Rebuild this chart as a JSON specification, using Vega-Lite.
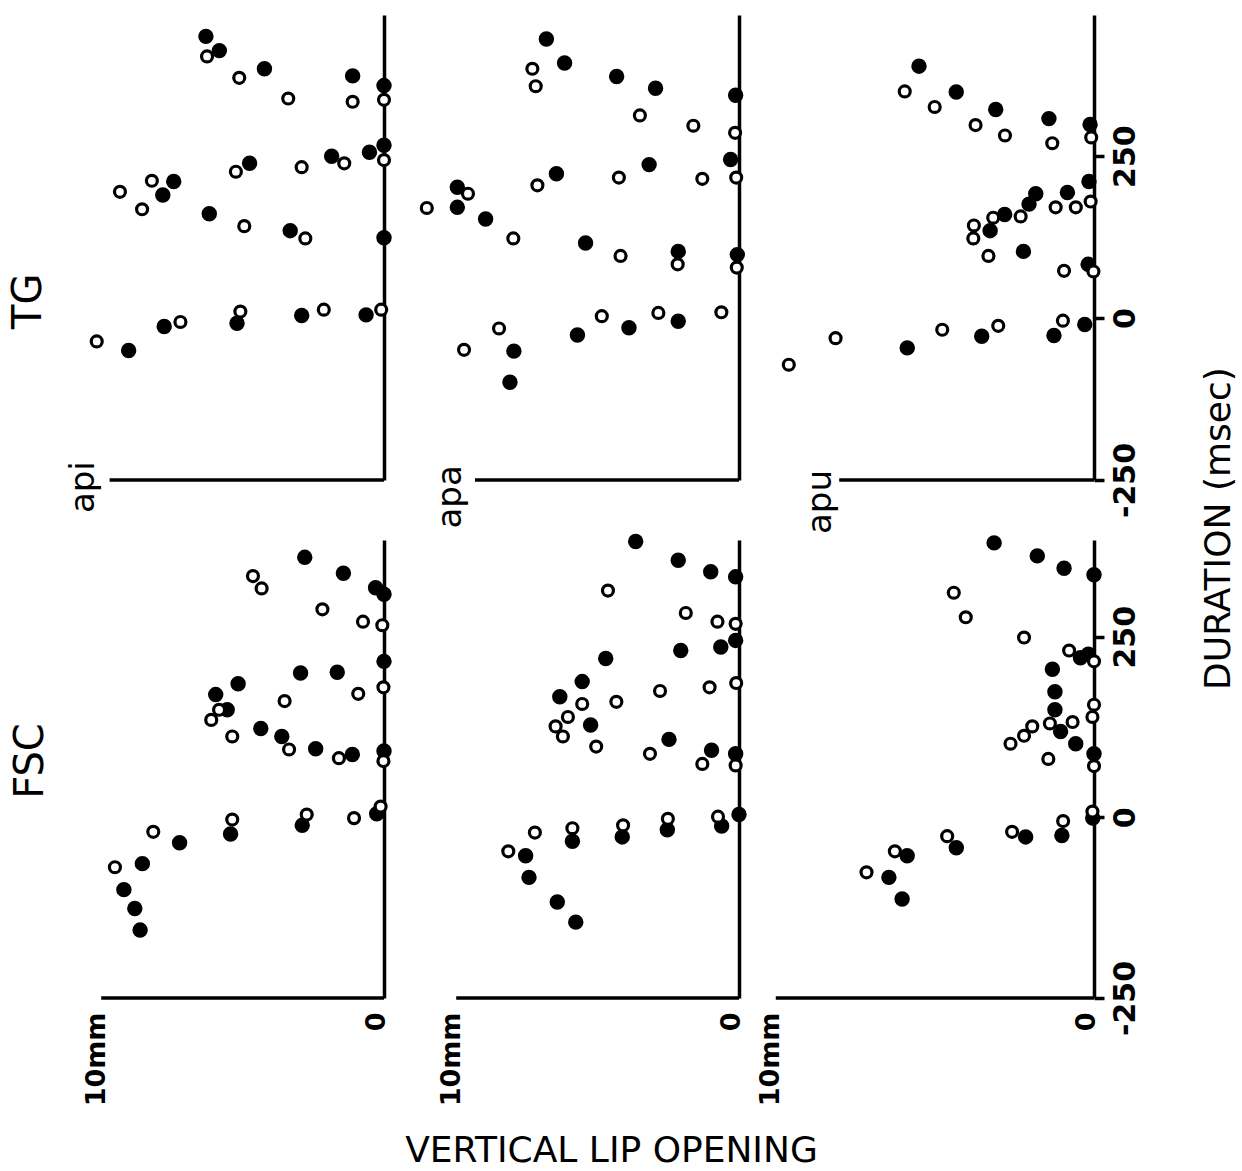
{
  "$schema": "https://vega.github.io/schema/vega-lite/v6.json",
  "background": "white",
  "padding": {"left": 8, "top": 15, "right": 0, "bottom": 0},
  "autosize": {"type": "pad"},
  "config": {
    "view": {"stroke": null},
    "axis": {"domainColor": "black", "domainWidth": 3.5, "tickColor": "black", "tickWidth": 3.5, "labelColor": "black", "labelFont": "DejaVu Sans", "labelFontWeight": "bold", "grid": false, "titleColor": "black", "titleFont": "DejaVu Sans"},
    "text": {"font": "DejaVu Sans", "color": "black"}
  },
  "datasets": {
    "pts": [
      {"s":"TG","w":"api","t":"f","lip":6.36,"dur":435},{"s":"TG","w":"api","t":"f","lip":5.88,"dur":413},{"s":"TG","w":"api","t":"f","lip":4.27,"dur":385},{"s":"TG","w":"api","t":"f","lip":1.12,"dur":374},{"s":"TG","w":"api","t":"f","lip":0,"dur":359},{"s":"TG","w":"api","t":"f","lip":0,"dur":267},{"s":"TG","w":"api","t":"f","lip":0.52,"dur":256},{"s":"TG","w":"api","t":"f","lip":1.87,"dur":250},{"s":"TG","w":"api","t":"f","lip":4.8,"dur":239},{"s":"TG","w":"api","t":"f","lip":7.51,"dur":211},{"s":"TG","w":"api","t":"f","lip":7.9,"dur":190},{"s":"TG","w":"api","t":"f","lip":6.24,"dur":161},{"s":"TG","w":"api","t":"f","lip":3.35,"dur":135},{"s":"TG","w":"api","t":"f","lip":0,"dur":124},{"s":"TG","w":"api","t":"f","lip":7.85,"dur":-13},{"s":"TG","w":"api","t":"f","lip":5.25,"dur":-8},{"s":"TG","w":"api","t":"f","lip":2.94,"dur":4},{"s":"TG","w":"api","t":"f","lip":0.64,"dur":5},{"s":"TG","w":"api","t":"f","lip":9.12,"dur":-50},
      {"s":"TG","w":"api","t":"o","lip":6.32,"dur":404},{"s":"TG","w":"api","t":"o","lip":5.17,"dur":371},{"s":"TG","w":"api","t":"o","lip":3.42,"dur":339},{"s":"TG","w":"api","t":"o","lip":1.12,"dur":334},{"s":"TG","w":"api","t":"o","lip":0,"dur":337},{"s":"TG","w":"api","t":"o","lip":0,"dur":244},{"s":"TG","w":"api","t":"o","lip":1.42,"dur":239},{"s":"TG","w":"api","t":"o","lip":2.94,"dur":233},{"s":"TG","w":"api","t":"o","lip":5.29,"dur":226},{"s":"TG","w":"api","t":"o","lip":8.29,"dur":212},{"s":"TG","w":"api","t":"o","lip":9.43,"dur":195},{"s":"TG","w":"api","t":"o","lip":8.64,"dur":168},{"s":"TG","w":"api","t":"o","lip":4.99,"dur":142},{"s":"TG","w":"api","t":"o","lip":2.81,"dur":123},{"s":"TG","w":"api","t":"o","lip":7.27,"dur":-6},{"s":"TG","w":"api","t":"o","lip":5.13,"dur":10},{"s":"TG","w":"api","t":"o","lip":2.15,"dur":13},{"s":"TG","w":"api","t":"o","lip":0.1,"dur":13},{"s":"TG","w":"api","t":"o","lip":10.26,"dur":-36},
      {"s":"TG","w":"apa","t":"f","lip":6.88,"dur":431},{"s":"TG","w":"apa","t":"f","lip":6.23,"dur":394},{"s":"TG","w":"apa","t":"f","lip":4.37,"dur":373},{"s":"TG","w":"apa","t":"f","lip":2.98,"dur":355},{"s":"TG","w":"apa","t":"f","lip":0.12,"dur":344},{"s":"TG","w":"apa","t":"f","lip":0.3,"dur":245},{"s":"TG","w":"apa","t":"f","lip":3.21,"dur":237},{"s":"TG","w":"apa","t":"f","lip":6.52,"dur":223},{"s":"TG","w":"apa","t":"f","lip":10.06,"dur":202},{"s":"TG","w":"apa","t":"f","lip":10.06,"dur":171},{"s":"TG","w":"apa","t":"f","lip":9.05,"dur":153},{"s":"TG","w":"apa","t":"f","lip":5.48,"dur":116},{"s":"TG","w":"apa","t":"f","lip":2.17,"dur":103},{"s":"TG","w":"apa","t":"f","lip":0.06,"dur":98},{"s":"TG","w":"apa","t":"f","lip":2.17,"dur":-5},{"s":"TG","w":"apa","t":"f","lip":3.93,"dur":-15},{"s":"TG","w":"apa","t":"f","lip":5.77,"dur":-26},{"s":"TG","w":"apa","t":"f","lip":8.04,"dur":-51},{"s":"TG","w":"apa","t":"f","lip":8.18,"dur":-99},
      {"s":"TG","w":"apa","t":"o","lip":7.38,"dur":385},{"s":"TG","w":"apa","t":"o","lip":7.26,"dur":358},{"s":"TG","w":"apa","t":"o","lip":3.54,"dur":313},{"s":"TG","w":"apa","t":"o","lip":1.63,"dur":297},{"s":"TG","w":"apa","t":"o","lip":0.14,"dur":286},{"s":"TG","w":"apa","t":"o","lip":0.1,"dur":217},{"s":"TG","w":"apa","t":"o","lip":1.31,"dur":215},{"s":"TG","w":"apa","t":"o","lip":4.29,"dur":217},{"s":"TG","w":"apa","t":"o","lip":7.2,"dur":205},{"s":"TG","w":"apa","t":"o","lip":9.68,"dur":192},{"s":"TG","w":"apa","t":"o","lip":11.15,"dur":170},{"s":"TG","w":"apa","t":"o","lip":8.06,"dur":123},{"s":"TG","w":"apa","t":"o","lip":4.23,"dur":96},{"s":"TG","w":"apa","t":"o","lip":2.19,"dur":83},{"s":"TG","w":"apa","t":"o","lip":0.08,"dur":78},{"s":"TG","w":"apa","t":"o","lip":4.9,"dur":3},{"s":"TG","w":"apa","t":"o","lip":2.88,"dur":8},{"s":"TG","w":"apa","t":"o","lip":0.63,"dur":9},{"s":"TG","w":"apa","t":"o","lip":8.57,"dur":-16},{"s":"TG","w":"apa","t":"o","lip":9.82,"dur":-49},
      {"s":"TG","w":"apu","t":"f","lip":6.25,"dur":389},{"s":"TG","w":"apu","t":"f","lip":4.92,"dur":349},{"s":"TG","w":"apu","t":"f","lip":3.51,"dur":322},{"s":"TG","w":"apu","t":"f","lip":1.61,"dur":308},{"s":"TG","w":"apu","t":"f","lip":0.14,"dur":299},{"s":"TG","w":"apu","t":"f","lip":0.18,"dur":211},{"s":"TG","w":"apu","t":"f","lip":0.95,"dur":194},{"s":"TG","w":"apu","t":"f","lip":2.08,"dur":192},{"s":"TG","w":"apu","t":"f","lip":2.32,"dur":176},{"s":"TG","w":"apu","t":"f","lip":3.19,"dur":160},{"s":"TG","w":"apu","t":"f","lip":3.71,"dur":135},{"s":"TG","w":"apu","t":"f","lip":2.52,"dur":103},{"s":"TG","w":"apu","t":"f","lip":0.21,"dur":83},{"s":"TG","w":"apu","t":"f","lip":0.33,"dur":-10},{"s":"TG","w":"apu","t":"f","lip":1.43,"dur":-27},{"s":"TG","w":"apu","t":"f","lip":4.01,"dur":-28},{"s":"TG","w":"apu","t":"f","lip":6.67,"dur":-46},
      {"s":"TG","w":"apu","t":"o","lip":6.76,"dur":350},{"s":"TG","w":"apu","t":"o","lip":5.69,"dur":326},{"s":"TG","w":"apu","t":"o","lip":4.23,"dur":298},{"s":"TG","w":"apu","t":"o","lip":3.18,"dur":282},{"s":"TG","w":"apu","t":"o","lip":1.49,"dur":270},{"s":"TG","w":"apu","t":"o","lip":0.1,"dur":279},{"s":"TG","w":"apu","t":"o","lip":0.12,"dur":180},{"s":"TG","w":"apu","t":"o","lip":0.65,"dur":171},{"s":"TG","w":"apu","t":"o","lip":1.37,"dur":171},{"s":"TG","w":"apu","t":"o","lip":2.62,"dur":157},{"s":"TG","w":"apu","t":"o","lip":3.6,"dur":155},{"s":"TG","w":"apu","t":"o","lip":4.29,"dur":143},{"s":"TG","w":"apu","t":"o","lip":4.31,"dur":123},{"s":"TG","w":"apu","t":"o","lip":3.77,"dur":96},{"s":"TG","w":"apu","t":"o","lip":1.07,"dur":73},{"s":"TG","w":"apu","t":"o","lip":0.02,"dur":72},{"s":"TG","w":"apu","t":"o","lip":1.11,"dur":-4},{"s":"TG","w":"apu","t":"o","lip":3.42,"dur":-12},{"s":"TG","w":"apu","t":"o","lip":5.42,"dur":-18},{"s":"TG","w":"apu","t":"o","lip":9.23,"dur":-31},{"s":"TG","w":"apu","t":"o","lip":10.9,"dur":-72},
      {"s":"FSC","w":"api","t":"f","lip":2.83,"dur":360},{"s":"FSC","w":"api","t":"f","lip":1.45,"dur":338},{"s":"FSC","w":"api","t":"f","lip":0.3,"dur":318},{"s":"FSC","w":"api","t":"f","lip":0,"dur":309},{"s":"FSC","w":"api","t":"f","lip":0,"dur":216},{"s":"FSC","w":"api","t":"f","lip":1.67,"dur":201},{"s":"FSC","w":"api","t":"f","lip":2.98,"dur":200},{"s":"FSC","w":"api","t":"f","lip":5.21,"dur":185},{"s":"FSC","w":"api","t":"f","lip":6.01,"dur":170},{"s":"FSC","w":"api","t":"f","lip":5.6,"dur":149},{"s":"FSC","w":"api","t":"f","lip":4.4,"dur":123},{"s":"FSC","w":"api","t":"f","lip":3.65,"dur":112},{"s":"FSC","w":"api","t":"f","lip":2.44,"dur":95},{"s":"FSC","w":"api","t":"f","lip":1.13,"dur":87},{"s":"FSC","w":"api","t":"f","lip":0,"dur":92},{"s":"FSC","w":"api","t":"f","lip":0.26,"dur":5},{"s":"FSC","w":"api","t":"f","lip":2.92,"dur":-11},{"s":"FSC","w":"api","t":"f","lip":5.48,"dur":-23},{"s":"FSC","w":"api","t":"f","lip":7.3,"dur":-35},{"s":"FSC","w":"api","t":"f","lip":8.63,"dur":-64},{"s":"FSC","w":"api","t":"f","lip":9.29,"dur":-100},{"s":"FSC","w":"api","t":"f","lip":8.9,"dur":-126},{"s":"FSC","w":"api","t":"f","lip":8.71,"dur":-156},
      {"s":"FSC","w":"api","t":"o","lip":4.68,"dur":334},{"s":"FSC","w":"api","t":"o","lip":4.37,"dur":317},{"s":"FSC","w":"api","t":"o","lip":2.2,"dur":288},{"s":"FSC","w":"api","t":"o","lip":0.75,"dur":271},{"s":"FSC","w":"api","t":"o","lip":0.06,"dur":266},{"s":"FSC","w":"api","t":"o","lip":0.02,"dur":180},{"s":"FSC","w":"api","t":"o","lip":0.92,"dur":171},{"s":"FSC","w":"api","t":"o","lip":3.55,"dur":161},{"s":"FSC","w":"api","t":"o","lip":5.89,"dur":149},{"s":"FSC","w":"api","t":"o","lip":6.17,"dur":135},{"s":"FSC","w":"api","t":"o","lip":5.42,"dur":112},{"s":"FSC","w":"api","t":"o","lip":3.39,"dur":94},{"s":"FSC","w":"api","t":"o","lip":1.61,"dur":82},{"s":"FSC","w":"api","t":"o","lip":0.02,"dur":78},{"s":"FSC","w":"api","t":"o","lip":0.12,"dur":15},{"s":"FSC","w":"api","t":"o","lip":1.07,"dur":-1},{"s":"FSC","w":"api","t":"o","lip":2.76,"dur":4},{"s":"FSC","w":"api","t":"o","lip":5.42,"dur":-3},{"s":"FSC","w":"api","t":"o","lip":8.24,"dur":-20},{"s":"FSC","w":"api","t":"o","lip":9.61,"dur":-69},
      {"s":"FSC","w":"apa","t":"f","lip":3.69,"dur":382},{"s":"FSC","w":"apa","t":"f","lip":2.17,"dur":356},{"s":"FSC","w":"apa","t":"f","lip":1.01,"dur":340},{"s":"FSC","w":"apa","t":"f","lip":0.12,"dur":333},{"s":"FSC","w":"apa","t":"f","lip":0.12,"dur":245},{"s":"FSC","w":"apa","t":"f","lip":0.65,"dur":236},{"s":"FSC","w":"apa","t":"f","lip":2.08,"dur":231},{"s":"FSC","w":"apa","t":"f","lip":4.76,"dur":220},{"s":"FSC","w":"apa","t":"f","lip":5.6,"dur":188},{"s":"FSC","w":"apa","t":"f","lip":6.4,"dur":167},{"s":"FSC","w":"apa","t":"f","lip":5.3,"dur":128},{"s":"FSC","w":"apa","t":"f","lip":2.5,"dur":108},{"s":"FSC","w":"apa","t":"f","lip":0.98,"dur":93},{"s":"FSC","w":"apa","t":"f","lip":0.12,"dur":88},{"s":"FSC","w":"apa","t":"f","lip":0,"dur":4},{"s":"FSC","w":"apa","t":"f","lip":0.62,"dur":-12},{"s":"FSC","w":"apa","t":"f","lip":2.56,"dur":-17},{"s":"FSC","w":"apa","t":"f","lip":4.17,"dur":-27},{"s":"FSC","w":"apa","t":"f","lip":5.95,"dur":-33},{"s":"FSC","w":"apa","t":"f","lip":7.62,"dur":-53},{"s":"FSC","w":"apa","t":"f","lip":7.5,"dur":-83},{"s":"FSC","w":"apa","t":"f","lip":6.49,"dur":-117},{"s":"FSC","w":"apa","t":"f","lip":5.83,"dur":-145},
      {"s":"FSC","w":"apa","t":"o","lip":4.68,"dur":314},{"s":"FSC","w":"apa","t":"o","lip":1.9,"dur":283},{"s":"FSC","w":"apa","t":"o","lip":0.77,"dur":271},{"s":"FSC","w":"apa","t":"o","lip":0.12,"dur":268},{"s":"FSC","w":"apa","t":"o","lip":0.1,"dur":186},{"s":"FSC","w":"apa","t":"o","lip":1.05,"dur":180},{"s":"FSC","w":"apa","t":"o","lip":2.82,"dur":175},{"s":"FSC","w":"apa","t":"o","lip":4.38,"dur":160},{"s":"FSC","w":"apa","t":"o","lip":5.6,"dur":157},{"s":"FSC","w":"apa","t":"o","lip":6.11,"dur":139},{"s":"FSC","w":"apa","t":"o","lip":6.55,"dur":126},{"s":"FSC","w":"apa","t":"o","lip":6.29,"dur":112},{"s":"FSC","w":"apa","t":"o","lip":5.1,"dur":98},{"s":"FSC","w":"apa","t":"o","lip":3.18,"dur":88},{"s":"FSC","w":"apa","t":"o","lip":1.31,"dur":74},{"s":"FSC","w":"apa","t":"o","lip":0.12,"dur":72},{"s":"FSC","w":"apa","t":"o","lip":0.75,"dur":1},{"s":"FSC","w":"apa","t":"o","lip":2.54,"dur":-2},{"s":"FSC","w":"apa","t":"o","lip":4.14,"dur":-11},{"s":"FSC","w":"apa","t":"o","lip":5.95,"dur":-15},{"s":"FSC","w":"apa","t":"o","lip":7.29,"dur":-21},{"s":"FSC","w":"apa","t":"o","lip":8.24,"dur":-47},
      {"s":"FSC","w":"apu","t":"f","lip":3.17,"dur":380},{"s":"FSC","w":"apu","t":"f","lip":1.8,"dur":362},{"s":"FSC","w":"apu","t":"f","lip":0.95,"dur":345},{"s":"FSC","w":"apu","t":"f","lip":0,"dur":336},{"s":"FSC","w":"apu","t":"f","lip":0.18,"dur":226},{"s":"FSC","w":"apu","t":"f","lip":0.43,"dur":221},{"s":"FSC","w":"apu","t":"f","lip":1.32,"dur":205},{"s":"FSC","w":"apu","t":"f","lip":1.24,"dur":174},{"s":"FSC","w":"apu","t":"f","lip":1.24,"dur":149},{"s":"FSC","w":"apu","t":"f","lip":1.06,"dur":119},{"s":"FSC","w":"apu","t":"f","lip":0.58,"dur":102},{"s":"FSC","w":"apu","t":"f","lip":0,"dur":88},{"s":"FSC","w":"apu","t":"f","lip":0.04,"dur":-1},{"s":"FSC","w":"apu","t":"f","lip":2.17,"dur":-27},{"s":"FSC","w":"apu","t":"f","lip":1.02,"dur":-25},{"s":"FSC","w":"apu","t":"f","lip":4.37,"dur":-42},{"s":"FSC","w":"apu","t":"f","lip":5.93,"dur":-53},{"s":"FSC","w":"apu","t":"f","lip":6.51,"dur":-83},{"s":"FSC","w":"apu","t":"f","lip":6.09,"dur":-113},
      {"s":"FSC","w":"apu","t":"o","lip":4.45,"dur":311},{"s":"FSC","w":"apu","t":"o","lip":4.07,"dur":277},{"s":"FSC","w":"apu","t":"o","lip":2.22,"dur":249},{"s":"FSC","w":"apu","t":"o","lip":0.79,"dur":231},{"s":"FSC","w":"apu","t":"o","lip":0,"dur":216},{"s":"FSC","w":"apu","t":"o","lip":0,"dur":156},{"s":"FSC","w":"apu","t":"o","lip":0.05,"dur":139},{"s":"FSC","w":"apu","t":"o","lip":0.68,"dur":132},{"s":"FSC","w":"apu","t":"o","lip":1.4,"dur":130},{"s":"FSC","w":"apu","t":"o","lip":1.96,"dur":126},{"s":"FSC","w":"apu","t":"o","lip":2.22,"dur":113},{"s":"FSC","w":"apu","t":"o","lip":2.65,"dur":102},{"s":"FSC","w":"apu","t":"o","lip":1.45,"dur":81},{"s":"FSC","w":"apu","t":"o","lip":0,"dur":71},{"s":"FSC","w":"apu","t":"o","lip":0.05,"dur":8},{"s":"FSC","w":"apu","t":"o","lip":0.98,"dur":-5},{"s":"FSC","w":"apu","t":"o","lip":2.6,"dur":-20},{"s":"FSC","w":"apu","t":"o","lip":4.66,"dur":-26},{"s":"FSC","w":"apu","t":"o","lip":6.32,"dur":-47},{"s":"FSC","w":"apu","t":"o","lip":7.22,"dur":-76}
    ]
  },
  "bounds": "flush",
  "columns": 3,
  "spacing": {"row": 60, "column": 33},
  "concat": [
    {
      "width": 322, "height": 465,
      "layer": [
        {"data": {"values": [{}]}, "mark": {"type": "rule", "color": "black", "strokeWidth": 3.5},
         "encoding": {"x": {"datum": 9.8, "type": "quantitative", "axis": null}, "x2": {"datum": 0}, "y": {"datum": -250, "type": "quantitative"}}},
        {"data": {"name": "pts"}, "transform": [{"filter": "datum.s == 'TG' && datum.w == 'api'"}],
         "mark": {"type": "point", "shape": "circle", "filled": true, "stroke": "black", "strokeWidth": 3.2, "opacity": 1},
         "encoding": {
           "x": {"field": "lip", "type": "quantitative", "scale": {"domain": [0, 11.5], "reverse": true, "nice": false, "zero": false}, "axis": null},
           "y": {"field": "dur", "type": "quantitative", "scale": {"domain": [-250, 468], "nice": false, "zero": false}, "axis": {"orient": "right", "ticks": false, "labels": false, "title": null}},
           "fill": {"field": "t", "type": "nominal", "scale": {"domain": ["f", "o"], "range": ["black", "white"]}, "legend": null},
           "size": {"field": "t", "type": "nominal", "scale": {"domain": ["f", "o"], "range": [150, 120]}, "legend": null}
         }},
        {"data": {"values": [{}]}, "mark": {"type": "text", "text": "api", "angle": 270, "fontSize": 34, "align": "center", "baseline": "middle"},
         "encoding": {"x": {"datum": 10.7, "type": "quantitative", "axis": null}, "y": {"datum": -261, "type": "quantitative"}}},
        {"data": {"values": [{}]}, "mark": {"type": "text", "text": "TG", "angle": 270, "fontSize": 40, "align": "center", "baseline": "middle"},
         "encoding": {"x": {"datum": 12.68, "type": "quantitative", "axis": null}, "y": {"datum": 26, "type": "quantitative"}}}
      ]
    },
    {
      "width": 322, "height": 465,
      "layer": [
        {"data": {"values": [{}]}, "mark": {"type": "rule", "color": "black", "strokeWidth": 3.5},
         "encoding": {"x": {"datum": 9.43, "type": "quantitative", "axis": null}, "x2": {"datum": 0}, "y": {"datum": -250, "type": "quantitative"}}},
        {"data": {"name": "pts"}, "transform": [{"filter": "datum.s == 'TG' && datum.w == 'apa'"}],
         "mark": {"type": "point", "shape": "circle", "filled": true, "stroke": "black", "strokeWidth": 3.2, "opacity": 1},
         "encoding": {
           "x": {"field": "lip", "type": "quantitative", "scale": {"domain": [0, 11.5], "reverse": true, "nice": false, "zero": false}, "axis": null},
           "y": {"field": "dur", "type": "quantitative", "scale": {"domain": [-250, 468], "nice": false, "zero": false}, "axis": {"orient": "right", "ticks": false, "labels": false, "title": null}},
           "fill": {"field": "t", "type": "nominal", "scale": {"domain": ["f", "o"], "range": ["black", "white"]}, "legend": null},
           "size": {"field": "t", "type": "nominal", "scale": {"domain": ["f", "o"], "range": [150, 120]}, "legend": null}
         }},
        {"data": {"values": [{}]}, "mark": {"type": "text", "text": "apa", "angle": 270, "fontSize": 34, "align": "center", "baseline": "middle"},
         "encoding": {"x": {"datum": 10.3, "type": "quantitative", "axis": null}, "y": {"datum": -276, "type": "quantitative"}}}
      ]
    },
    {
      "width": 322, "height": 465,
      "layer": [
        {"data": {"values": [{}]}, "mark": {"type": "rule", "color": "black", "strokeWidth": 3.5},
         "encoding": {"x": {"datum": 9.1, "type": "quantitative", "axis": null}, "x2": {"datum": 0}, "y": {"datum": -250, "type": "quantitative"}}},
        {"data": {"name": "pts"}, "transform": [{"filter": "datum.s == 'TG' && datum.w == 'apu'"}],
         "mark": {"type": "point", "shape": "circle", "filled": true, "stroke": "black", "strokeWidth": 3.2, "opacity": 1},
         "encoding": {
           "x": {"field": "lip", "type": "quantitative", "scale": {"domain": [0, 11.5], "reverse": true, "nice": false, "zero": false}, "axis": null},
           "y": {"field": "dur", "type": "quantitative", "scale": {"domain": [-250, 468], "nice": false, "zero": false}, "axis": {"orient": "right", "values": [-250, 0, 250], "labelExpr": "datum.value == -250 ? '-250' : datum.label", "ticks": true, "tickSize": 10, "labels": true, "labelAngle": 270, "labelAlign": "center", "labelBaseline": "top", "labelFontSize": 30, "labelPadding": 6, "title": null}},
           "fill": {"field": "t", "type": "nominal", "scale": {"domain": ["f", "o"], "range": ["black", "white"]}, "legend": null},
           "size": {"field": "t", "type": "nominal", "scale": {"domain": ["f", "o"], "range": [150, 120]}, "legend": null}
         }},
        {"data": {"values": [{}]}, "mark": {"type": "text", "text": "apu", "angle": 270, "fontSize": 34, "align": "center", "baseline": "middle"},
         "encoding": {"x": {"datum": 9.75, "type": "quantitative", "axis": null}, "y": {"datum": -284, "type": "quantitative"}}},
        {"data": {"values": [{}]}, "mark": {"type": "text", "text": "DURATION  (msec)", "angle": 270, "fontSize": 36, "align": "center", "baseline": "middle"},
         "encoding": {"x": {"datum": -4.45, "type": "quantitative", "axis": null}, "y": {"datum": -325, "type": "quantitative"}}}
      ]
    },
    {
      "width": 322, "height": 458,
      "layer": [
        {"data": {"values": [{}]}, "mark": {"type": "rule", "color": "black", "strokeWidth": 3.5},
         "encoding": {"x": {"datum": 10.1, "type": "quantitative"}, "x2": {"datum": 0}, "y": {"datum": -250, "type": "quantitative"}}},
        {"data": {"name": "pts"}, "transform": [{"filter": "datum.s == 'FSC' && datum.w == 'api'"}],
         "mark": {"type": "point", "shape": "circle", "filled": true, "stroke": "black", "strokeWidth": 3.2, "opacity": 1},
         "encoding": {
           "x": {"field": "lip", "type": "quantitative", "scale": {"domain": [0, 11.5], "reverse": true, "nice": false, "zero": false}, "axis": {"orient": "bottom", "domain": false, "ticks": false, "values": [0, 10], "labelExpr": "datum.value == 0 ? '0' : '10mm'", "labelAngle": 270, "labelFontSize": 27, "labelPadding": 14, "labelOffset": -8, "title": null}},
           "y": {"field": "dur", "type": "quantitative", "scale": {"domain": [-250, 384], "nice": false, "zero": false}, "axis": {"orient": "right", "ticks": false, "labels": false, "title": null}},
           "fill": {"field": "t", "type": "nominal", "scale": {"domain": ["f", "o"], "range": ["black", "white"]}, "legend": null},
           "size": {"field": "t", "type": "nominal", "scale": {"domain": ["f", "o"], "range": [150, 120]}, "legend": null}
         }},
        {"data": {"values": [{}]}, "mark": {"type": "text", "text": "FSC", "angle": 270, "fontSize": 40, "align": "center", "baseline": "middle"},
         "encoding": {"x": {"datum": 12.6, "type": "quantitative"}, "y": {"datum": 78, "type": "quantitative"}}}
      ]
    },
    {
      "width": 322, "height": 458,
      "layer": [
        {"data": {"values": [{}]}, "mark": {"type": "rule", "color": "black", "strokeWidth": 3.5},
         "encoding": {"x": {"datum": 10.1, "type": "quantitative"}, "x2": {"datum": 0}, "y": {"datum": -250, "type": "quantitative"}}},
        {"data": {"name": "pts"}, "transform": [{"filter": "datum.s == 'FSC' && datum.w == 'apa'"}],
         "mark": {"type": "point", "shape": "circle", "filled": true, "stroke": "black", "strokeWidth": 3.2, "opacity": 1},
         "encoding": {
           "x": {"field": "lip", "type": "quantitative", "scale": {"domain": [0, 11.5], "reverse": true, "nice": false, "zero": false}, "axis": {"orient": "bottom", "domain": false, "ticks": false, "values": [0, 10], "labelExpr": "datum.value == 0 ? '0' : '10mm'", "labelAngle": 270, "labelFontSize": 27, "labelPadding": 14, "labelOffset": -8, "title": "VERTICAL LIP OPENING", "titleFontSize": 36, "titleFontWeight": "normal", "titleX": 194, "titleY": 152, "titleAlign": "center", "titleBaseline": "middle"}},
           "y": {"field": "dur", "type": "quantitative", "scale": {"domain": [-250, 384], "nice": false, "zero": false}, "axis": {"orient": "right", "ticks": false, "labels": false, "title": null}},
           "fill": {"field": "t", "type": "nominal", "scale": {"domain": ["f", "o"], "range": ["black", "white"]}, "legend": null},
           "size": {"field": "t", "type": "nominal", "scale": {"domain": ["f", "o"], "range": [150, 120]}, "legend": null}
         }}
      ]
    },
    {
      "width": 322, "height": 458,
      "layer": [
        {"data": {"values": [{}]}, "mark": {"type": "rule", "color": "black", "strokeWidth": 3.5},
         "encoding": {"x": {"datum": 10.1, "type": "quantitative"}, "x2": {"datum": 0}, "y": {"datum": -250, "type": "quantitative"}}},
        {"data": {"name": "pts"}, "transform": [{"filter": "datum.s == 'FSC' && datum.w == 'apu'"}],
         "mark": {"type": "point", "shape": "circle", "filled": true, "stroke": "black", "strokeWidth": 3.2, "opacity": 1},
         "encoding": {
           "x": {"field": "lip", "type": "quantitative", "scale": {"domain": [0, 10.22], "reverse": true, "nice": false, "zero": false}, "axis": {"orient": "bottom", "domain": false, "ticks": false, "values": [0, 10], "labelExpr": "datum.value == 0 ? '0' : '10mm'", "labelAngle": 270, "labelFontSize": 27, "labelPadding": 14, "labelOffset": -8, "title": null}},
           "y": {"field": "dur", "type": "quantitative", "scale": {"domain": [-250, 384], "nice": false, "zero": false}, "axis": {"orient": "right", "values": [-250, 0, 250], "labelExpr": "datum.value == -250 ? '-250' : datum.label", "ticks": true, "tickSize": 10, "labels": true, "labelAngle": 270, "labelAlign": "center", "labelBaseline": "top", "labelFontSize": 30, "labelPadding": 6, "title": null}},
           "fill": {"field": "t", "type": "nominal", "scale": {"domain": ["f", "o"], "range": ["black", "white"]}, "legend": null},
           "size": {"field": "t", "type": "nominal", "scale": {"domain": ["f", "o"], "range": [150, 120]}, "legend": null}
         }}
      ]
    }
  ]
}
